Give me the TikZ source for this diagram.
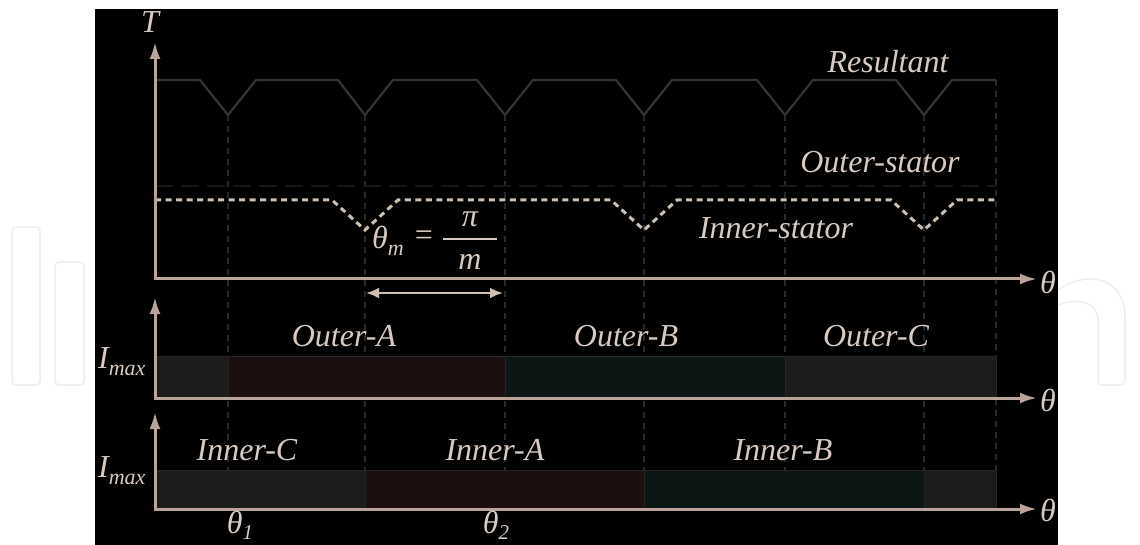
\documentclass[tikz,border=0pt]{standalone}
\usepackage{fontspec}
\setmainfont{Liberation Serif}
\usetikzlibrary{arrows.meta}
\definecolor{axiscol}{RGB}{186,164,154}
\definecolor{txtcol}{RGB}{214,202,194}
\definecolor{rescol}{RGB}{52,50,50}
\definecolor{vdash}{RGB}{40,40,40}
\definecolor{innercol}{RGB}{205,192,178}
\definecolor{outercol}{RGB}{22,22,22}
\definecolor{bargray}{RGB}{28,28,28}
\definecolor{barred}{RGB}{27,15,16}
\definecolor{barteal}{RGB}{12,23,21}
\definecolor{baredge}{RGB}{40,36,36}
\definecolor{wm}{RGB}{238,238,238}
\tikzset{
  axis/.style={draw=axiscol, line width=3pt, {Latex[length=17pt,width=11pt]}-{Latex[length=17pt,width=11pt]}},
  lbl/.style={text=txtcol, font=\fontsize{32}{36}\selectfont\itshape, inner sep=0pt},
  vline/.style={draw=vdash, line width=1.6pt, dash pattern=on 6pt off 5pt},
  resline/.style={draw=rescol, line width=2.2pt, line join=miter},
  innerline/.style={draw=innercol, line width=3pt, dash pattern=on 6pt off 4.5pt},
  outerline/.style={draw=outercol, line width=2.5pt, dash pattern=on 18pt off 8pt},
  bar/.style={draw=baredge, line width=1pt},
  dimarrow/.style={draw=innercol, line width=2.8pt, {Latex[length=13pt,width=11pt]}-{Latex[length=13pt,width=11pt]}},
  wmark/.style={draw=wm, line width=1.5pt, rounded corners=4pt}
}
\begin{document}
\begin{tikzpicture}[x=1pt,y=-1pt]
\useasboundingbox (0,0) rectangle (1140,545);
\fill[white] (0,0) rectangle (1140,545);
% watermark outlines
\draw[wmark] (12,227) rectangle (40,385);
\draw[wmark] (55,385) -- (55,262) -- (84,262) -- (84,385) -- cycle;
\draw[wmark] (1058,290) .. controls (1090,268) and (1125,280) .. (1125,320) -- (1125,385) -- (1098,385) -- (1098,325) .. controls (1098,300) and (1075,298) .. (1058,305);
\fill[black] (95,9) rectangle (1058,545);

% vertical dashed lines
\foreach \n/\x in {a/228,b/365,c/505,d/644,e/785,f/924}{
  \coordinate (v\n top) at (\x,115);
  \coordinate (v\n bot) at (\x,509);
  \draw[vline] (v\n top) -- (v\n bot);
}
\coordinate (vgtop) at (996,80);
\coordinate (vgbot) at (996,509);
\draw[vline] (vgtop) -- (vgbot);

% outer-stator (faint)
\draw[outerline] (155,186) -- (996,186);

% resultant
\draw[resline] (155,80) -- (200,80) -- (228,115) -- (256,80) -- (338,80) -- (365,115) -- (393,80) -- (477,80) -- (505,115) -- (533,80) -- (616,80) -- (644,115) -- (672,80) -- (757,80) -- (785,115) -- (813,80) -- (896,80) -- (924,115) -- (952,80) -- (996,80);

% inner-stator
\draw[innerline] (155,200) -- (332,200) -- (365,230) -- (398,200) -- (611,200) -- (644,230) -- (677,200) -- (891,200) -- (924,230) -- (957,200) -- (996,200);

% bars middle panel
\filldraw[bar, fill=bargray] (155,356) rectangle (228,398);
\filldraw[bar, fill=barred] (228,356) rectangle (505,398);
\filldraw[bar, fill=barteal] (505,356) rectangle (785,398);
\filldraw[bar, fill=bargray] (785,356) rectangle (996,398);
% bars bottom panel
\filldraw[bar, fill=bargray] (155,470) rectangle (365,509);
\filldraw[bar, fill=barred] (365,470) rectangle (644,509);
\filldraw[bar, fill=barteal] (644,470) rectangle (924,509);
\filldraw[bar, fill=bargray] (924,470) rectangle (996,509);

% axes
\coordinate (o1) at (155,279); \coordinate (t1) at (155,42); \coordinate (e1) at (1037,279);
\coordinate (o2) at (155,398); \coordinate (t2) at (155,297); \coordinate (e2) at (1037,398);
\coordinate (o3) at (155,509); \coordinate (t3) at (155,412); \coordinate (e3) at (1037,509);
\draw[axis] (t1) -- (o1) -- (e1);
\draw[axis] (t2) -- (o2) -- (e2);
\draw[axis] (t3) -- (o3) -- (e3);

% dimension arrow
\coordinate (dl) at (366,293); \coordinate (dr) at (503,293);
\draw[dimarrow] (dl) -- (dr);

% labels
\node[lbl] (T) at (150,22) {T};
\node[lbl] (th1) at (1048,282) {θ};
\node[lbl] (th2) at (1048,400) {θ};
\node[lbl] (th3) at (1048,510) {θ};
\node[lbl] (res) at (888,62) {Resultant};
\node[lbl] (outs) at (880,162) {Outer-stator};
\node[lbl] (ins) at (776,228) {Inner-stator};
\node[lbl] (thm) at (388,241) {θ\raisebox{-7pt}{\fontsize{22}{22}\selectfont m}};
\node[lbl, font=\fontsize{32}{36}\selectfont] (eq) at (424,238) {=};
\coordinate (fl) at (443,239); \coordinate (fr) at (497,239);
\draw[draw=txtcol, line width=1.6pt] (fl) -- (fr);
\node[lbl] (pi) at (470,219) {π};
\node[lbl] (mm) at (470,262) {m};
\node[lbl] (oa) at (344,336) {Outer-A};
\node[lbl] (ob) at (626,336) {Outer-B};
\node[lbl] (oc) at (876,336) {Outer-C};
\node[lbl] (ic) at (247,450) {Inner-C};
\node[lbl] (ia) at (495,450) {Inner-A};
\node[lbl] (ib) at (783,450) {Inner-B};
\node[lbl, anchor=west] (im1) at (98,362) {I\raisebox{-7pt}{\fontsize{22}{22}\selectfont max}};
\node[lbl, anchor=west] (im2) at (98,471) {I\raisebox{-7pt}{\fontsize{22}{22}\selectfont max}};
\node[lbl] (tha) at (240,525) {θ\raisebox{-6pt}{\fontsize{21}{21}\selectfont 1}};
\node[lbl] (thb) at (496,525) {θ\raisebox{-6pt}{\fontsize{21}{21}\selectfont 2}};
\end{tikzpicture}
\end{document}
